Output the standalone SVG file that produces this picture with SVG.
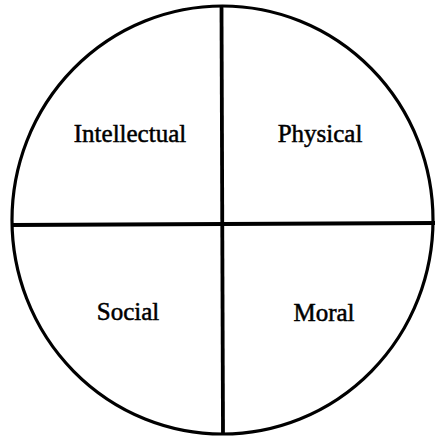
<svg xmlns="http://www.w3.org/2000/svg" width="435" height="441" viewBox="0 0 435 441">
<style>
.c{fill:none;stroke:#000;stroke-width:3.2}
.l{fill:none;stroke:#000;stroke-width:3.8}
.t{font-family:"Liberation Serif","Times New Roman",serif;font-size:25px;fill:#000;text-anchor:middle;stroke:#000;stroke-width:0.5}
</style>
<rect width="435" height="441" fill="#fff"/>
<g id="circle"><ellipse class="c" cx="222.5" cy="220" rx="210.5" ry="214"/></g>
<g id="connectors">
<line class="l" x1="221.5" y1="6" x2="223" y2="434"/>
<line class="l" x1="12" y1="225" x2="435" y2="223"/>
</g>
<g id="intellectual"><text class="t" x="130" y="142">Intellectual</text></g>
<g id="physical"><text class="t" x="320" y="142">Physical</text></g>
<g id="social"><text class="t" x="128" y="320">Social</text></g>
<g id="moral"><text class="t" x="324" y="321">Moral</text></g>
</svg>
